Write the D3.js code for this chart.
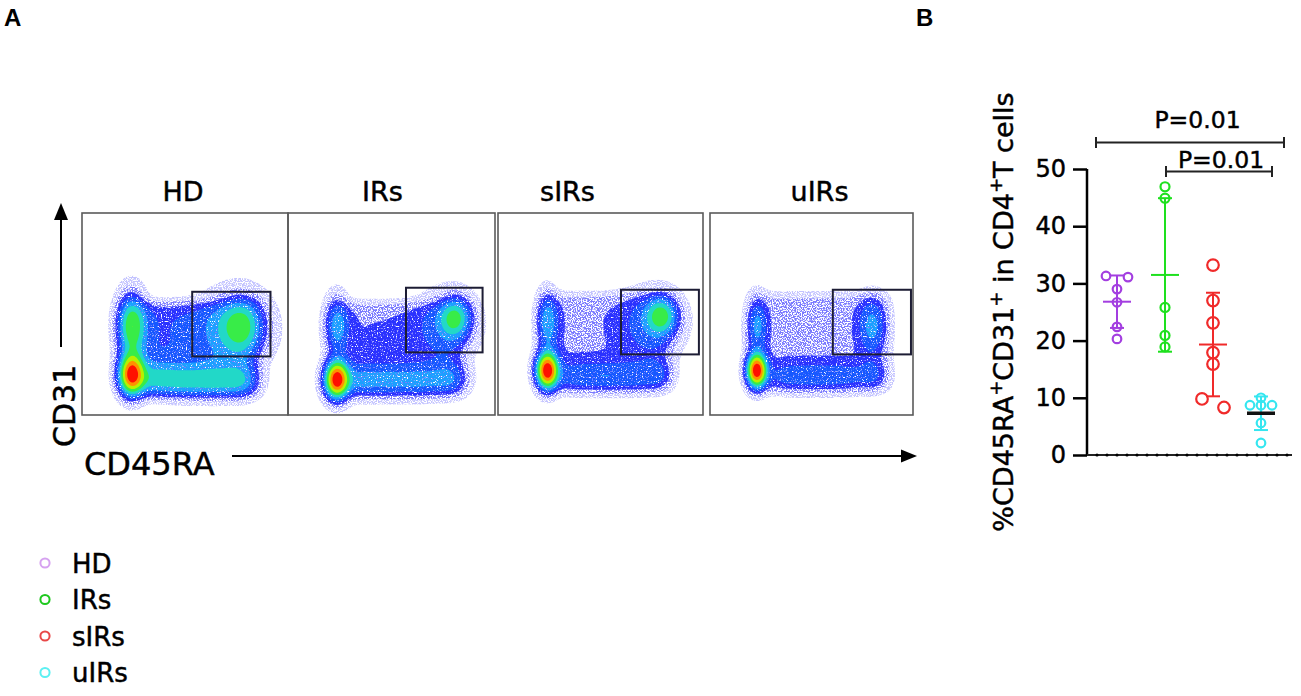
<!DOCTYPE html>
<html>
<head>
<meta charset="utf-8">
<script src="https://cdn.jsdelivr.net/npm/d3@7"></script>
<style>
  html, body { margin: 0; padding: 0; background: #fff; }
  svg { display: block; font-family: "DejaVu Sans", sans-serif; }
  text.lbl { fill: #000; stroke: #000; stroke-width: 0.45px; }
</style>
</head>
<body>
<svg id="fig" width="1301" height="696"></svg>
<script>
// ---------- Panel A: flow plots (CD45RA vs CD31) ----------
const flowGroups = ["HD", "IRs", "sIRs", "uIRs"];
// gate per plot: [xMin, yMin, xMax, yMax] on a 0-100 channel scale
const flowGates = [[53.5, 29, 91.5, 61], [57, 31, 94, 63], [60, 30, 98, 62], [60.5, 30, 99, 62]];
// cell populations: [x, y, spreadX, spreadY, weight, shape]
const hdPops = [
  [24, 20, 4, 6.5, 1.0, 2], [24, 44, 4.5, 10, 0.55, 2],
  [36, 18, 7, 5.5, 0.26, 2], [50, 17, 7, 5.5, 0.25, 2], [64, 17, 7, 5.5, 0.26, 2], [77, 17, 6, 5.5, 0.24, 2],
  [78, 44, 7, 9, 0.36, 2], [72, 42, 12, 12, 0.15, 2], [52.5, 33, 29, 21, 0.2, 8]
];
const irsPops = [
  [23.5, 17.5, 3.8, 6, 1.0, 2], [23.5, 44, 3.8, 9, 0.3, 2],
  [36, 17, 7, 5.5, 0.18, 2], [50, 17, 7, 5.5, 0.16, 2], [64, 17, 7, 5.5, 0.17, 2], [78, 18, 6, 5.5, 0.18, 2],
  [81, 48, 5, 6.5, 0.38, 2], [76, 44, 10, 11, 0.12, 2], [54, 33, 28, 21, 0.12, 8]
];
const sirsPops = [
  [24, 22, 3.5, 5.8, 1.0, 2], [24, 46, 3.4, 9, 0.3, 2],
  [38, 19, 7, 5, 0.13, 2], [52, 19, 7, 5, 0.13, 2], [66, 19, 7, 5, 0.13, 2], [78, 20, 5, 5, 0.12, 2],
  [80, 49, 5, 6, 0.4, 2], [75, 45, 10, 11, 0.13, 2], [53, 36, 28, 22, 0.11, 8]
];
const uirsPops = [
  [23, 22, 3.2, 5.4, 1.0, 2], [23, 44, 3.4, 9, 0.26, 2],
  [38, 19, 7, 5, 0.12, 2], [52, 19, 7, 5, 0.12, 2], [66, 19, 7, 5, 0.12, 2], [80, 20, 5, 5, 0.12, 2],
  [80, 44, 4.5, 9, 0.22, 2], [55, 36, 30, 22, 0.1, 8]
];
const flowPops = [hdPops, irsPops, sirsPops, uirsPops];
const densityLevels = [0.02, 0.06, 0.11, 0.17, 0.25, 0.34, 0.44, 0.56, 0.7, 0.84];
const densityColors = ["#c4c4ff", "#7a7aff", "#2c30ff", "#1658ff", "#1aa0ff", "#22d8c8", "#38ec48", "#b8f000", "#ff9000", "#ff1000"];

// ---------- Panel B: %CD45RA+CD31+ in CD4+ T cells ----------
const groups = ["HD", "IRs", "sIRs", "uIRs"];
const hdValues = [31.3, 31.1, 29.0, 26.7, 22.4, 20.3];
const irsValues = [46.9, 44.9, 25.8, 20.9, 18.9];
const sirsValues = [33.2, 27.0, 23.1, 17.9, 15.9, 9.8, 8.3];
const uirsValues = [10.0, 8.7, 8.7, 8.7, 5.6, 2.1];
const groupValues = [hdValues, irsValues, sirsValues, uirsValues];
const yTicks = [0, 10, 20, 30, 40, 50];
const comparisons = [["HD", "uIRs", "P=0.01"], ["IRs", "uIRs", "P=0.01"]];

const pointColors = ["#a33ee0", "#1ee01e", "#f02a2a", "#35e6f0"];
const meanColors = ["#a33ee0", "#1ee01e", "#f02a2a", "#111111"];
const legendColors = ["#d6a2f0", "#1ec81e", "#e84848", "#5cf0f2"];
const pointRadius = [4.3, 4.5, 5.8, 4.3];

const svg = d3.select("#fig");

// panel letters
["A", "B"].forEach((t, i) => svg.append("text").attr("x", i ? 916 : 4).attr("y", 26).text(t)
  .style("font-family", "'Liberation Sans', Arial, sans-serif").style("font-weight", "bold").style("font-size", "24px"));

// speckle filters for the sparse parts of the clouds
const defs = svg.append("defs");
function addSpeckle(id, offset, seed) {
  const f = defs.append("filter").attr("id", id).attr("x", 0).attr("y", 0).attr("width", 1).attr("height", 1);
  f.append("feTurbulence").attr("type", "fractalNoise").attr("baseFrequency", 0.8)
    .attr("numOctaves", 1).attr("seed", seed).attr("result", "noise");
  f.append("feColorMatrix").attr("in", "noise").attr("type", "matrix")
    .attr("values", `0 0 0 0 0  0 0 0 0 0  0 0 0 0 0  9 0 0 0 ${offset}`).attr("result", "mask");
  f.append("feComposite").attr("in", "SourceGraphic").attr("in2", "mask").attr("operator", "in");
}
addSpeckle("speckleEdge", -3.9, 7);
addSpeckle("speckleBody", -3.0, 11);

const flowLeft = [82, 288, 498, 710];
const flowRight = [288, 495, 703, 913];
const flowTop = 213, flowBottom = 415;
const titleShift = [-2, -9, -33, 8];
const gridN = 120;

function densityGrid(pops) {
  const vals = new Array(gridN * gridN);
  for (let j = 0; j < gridN; j++) {
    for (let i = 0; i < gridN; i++) {
      const x = (i + 0.5) * 100 / gridN, y = 100 - (j + 0.5) * 100 / gridN;
      let v = 0;
      for (const [cx, cy, sx, sy, w, p] of pops) {
        const dx = Math.abs(x - cx) / sx, dy = Math.abs(y - cy) / sy;
        v += w * Math.exp(-0.5 * (Math.pow(dx, p) + Math.pow(dy, p)));
      }
      vals[j * gridN + i] = v;
    }
  }
  const max = d3.max(vals);
  return vals.map(v => v / max);
}

const color = d3.scaleThreshold().domain(densityLevels.slice(1)).range(densityColors);

flowGroups.forEach((name, k) => {
  const x0 = flowLeft[k], x1 = flowRight[k];
  const xs = d3.scaleLinear().domain([0, 100]).range([x0, x1]);
  const ys = d3.scaleLinear().domain([0, 100]).range([flowBottom, flowTop]);
  const g = svg.append("g");

  const contours = d3.contours().size([gridN, gridN]).thresholds(densityLevels)(densityGrid(flowPops[k]));
  const proj = d3.geoTransform({
    point(px, py) { this.stream.point(xs(px * 100 / gridN), ys(100 - py * 100 / gridN)); }
  });
  const path = d3.geoPath(proj);

  g.append("g").attr("filter", "url(#speckleEdge)")
    .selectAll("path").data(contours.slice(0, 2)).join("path")
    .attr("d", path).attr("fill", d => color(d.value));
  g.append("g").attr("filter", "url(#speckleBody)")
    .selectAll("path").data(contours.slice(2, 5)).join("path")
    .attr("d", path).attr("fill", d => color(d.value));
  g.append("g")
    .selectAll("path").data(contours.slice(5)).join("path")
    .attr("d", path).attr("fill", d => color(d.value));

  // plot frame
  g.append("rect").attr("x", x0).attr("y", flowTop).attr("width", x1 - x0).attr("height", flowBottom - flowTop)
    .attr("fill", "none").attr("stroke", "#5a5a5a").attr("stroke-width", 1.6);

  // gate
  const gt = flowGates[k];
  g.append("rect").attr("x", xs(gt[0])).attr("y", ys(gt[3]))
    .attr("width", xs(gt[2]) - xs(gt[0])).attr("height", ys(gt[1]) - ys(gt[3]))
    .attr("fill", "none").attr("stroke", "#1c1c34").attr("stroke-width", 2);

  svg.append("text").attr("class", "lbl").attr("x", (x0 + x1) / 2 + titleShift[k]).attr("y", 201)
    .attr("text-anchor", "middle").style("font-size", "27px").text(name);
});

// axis arrows
svg.append("line").attr("x1", 61).attr("y1", 347).attr("x2", 61).attr("y2", 216)
  .attr("stroke", "#000").attr("stroke-width", 2);
svg.append("path").attr("d", "M61,203 L54,220 L68,220 Z").attr("fill", "#000");
svg.append("line").attr("x1", 232).attr("y1", 456).attr("x2", 904).attr("y2", 456)
  .attr("stroke", "#000").attr("stroke-width", 2);
svg.append("path").attr("d", "M917,456 L901,449.5 L901,462.5 Z").attr("fill", "#000");
svg.append("text").attr("class", "lbl").attr("transform", "translate(75,447) rotate(-90)")
  .style("font-size", "30px").text("CD31");
svg.append("text").attr("class", "lbl").attr("x", 84).attr("y", 475).style("font-size", "32px").text("CD45RA");

// legend
groups.forEach((name, i) => {
  const cy = 563 + i * 36.5;
  svg.append("circle").attr("cx", 45).attr("cy", cy).attr("r", 4.6)
    .attr("fill", "none").attr("stroke", legendColors[i]).attr("stroke-width", 2);
  svg.append("text").attr("class", "lbl").attr("x", 72).attr("y", cy + 9.5).style("font-size", "26px").text(name);
});

// ---------- Panel B ----------
const y = d3.scaleLinear().domain([0, 50]).range([455, 169]);
const x = d3.scalePoint().domain(groups).range([1117, 1261]);
const axisX = 1087;

const yAxis = svg.append("g").attr("transform", `translate(${axisX},0)`)
  .call(d3.axisLeft(y).tickValues(yTicks).tickSize(14).tickPadding(7));
yAxis.select(".domain").attr("stroke", "#000").attr("stroke-width", 2.5).attr("d", `M0,${y(0)}V${y(50)}`);
yAxis.selectAll(".tick line").attr("stroke", "#000").attr("stroke-width", 2.5);
yAxis.selectAll(".tick text").attr("class", "lbl").style("font-size", "24px")
  .style("font-family", "'DejaVu Sans', sans-serif");

// baseline with minor dots
svg.append("line").attr("x1", axisX).attr("x2", 1292).attr("y1", y(0)).attr("y2", y(0))
  .attr("stroke", "#222").attr("stroke-width", 2);
svg.append("g").selectAll("circle").data(d3.range(axisX + 10, 1292, 10)).join("circle")
  .attr("cx", d => d).attr("cy", y(0)).attr("r", 1.6).attr("fill", "#000");

// axis title with superscripts
const yLabel = svg.append("text").attr("class", "lbl").attr("transform", "translate(1013,312) rotate(-90)")
  .attr("text-anchor", "middle").style("font-size", "27px");
[["%CD45RA", 0], ["+", 1], ["CD31", 0], ["+", 1], [" in CD4", 0], ["+", 1], ["T cells", 0]].forEach(([t, sup], i, arr) => {
  const prevSup = i > 0 && arr[i - 1][1];
  yLabel.append("tspan").text(t)
    .attr("dy", sup ? -11 : (prevSup ? 11 : 0))
    .style("font-size", sup ? "18px" : "27px");
});

// points, means and SD bars
groups.forEach((gname, k) => {
  const vals = groupValues[k].slice().sort((a, b) => b - a);
  const r = pointRadius[k];
  const cx = x(gname);
  // spread overlapping points sideways
  const clusters = [];
  vals.forEach(v => {
    const last = clusters[clusters.length - 1];
    if (last && Math.abs(y(last[last.length - 1]) - y(v)) < 1.6 * r) last.push(v);
    else clusters.push([v]);
  });
  const pts = [];
  clusters.forEach(c => c.forEach((v, i) => {
    const step = c.length === 2 ? 22 : 11;
    pts.push({ v, dx: (i - (c.length - 1) / 2) * step });
  }));

  const mean = d3.mean(groupValues[k]);
  const sd = d3.deviation(groupValues[k]);
  const g = svg.append("g");
  g.append("line").attr("x1", cx).attr("x2", cx).attr("y1", y(mean - sd)).attr("y2", y(mean + sd))
    .attr("stroke", pointColors[k]).attr("stroke-width", 2);
  [mean - sd, mean + sd].forEach(v => g.append("line")
    .attr("x1", cx - 7).attr("x2", cx + 7).attr("y1", y(v)).attr("y2", y(v))
    .attr("stroke", pointColors[k]).attr("stroke-width", 2));

  g.selectAll("circle").data(pts).join("circle")
    .attr("cx", d => cx + d.dx).attr("cy", d => y(d.v)).attr("r", r)
    .attr("fill", "none").attr("stroke", pointColors[k]).attr("stroke-width", 2.2);

  g.append("line").attr("x1", cx - 14).attr("x2", cx + 14).attr("y1", y(mean)).attr("y2", y(mean))
    .attr("stroke", meanColors[k]).attr("stroke-width", k === 3 ? 3.5 : 2);
});

// significance brackets
const bracketY = [142.5, 171.5];
const bracketPad = [[-21, 23], [1, 11]];
const labelShift = [7.5, 2];
const labelY = [128, 168];
comparisons.forEach(([a, b, label], i) => {
  const xa = x(a) + bracketPad[i][0], xb = x(b) + bracketPad[i][1];
  const by = bracketY[i];
  const g = svg.append("g").attr("stroke", "#222").attr("stroke-width", 2);
  g.append("line").attr("x1", xa).attr("x2", xb).attr("y1", by).attr("y2", by);
  g.append("line").attr("x1", xa).attr("x2", xa).attr("y1", by - 5.5).attr("y2", by + 5.5);
  g.append("line").attr("x1", xb).attr("x2", xb).attr("y1", by - 5.5).attr("y2", by + 5.5);
  svg.append("text").attr("class", "lbl").attr("x", (xa + xb) / 2 + labelShift[i]).attr("y", labelY[i])
    .attr("text-anchor", "middle").style("font-size", "23.5px").text(label);
});
</script>
</body>
</html>
